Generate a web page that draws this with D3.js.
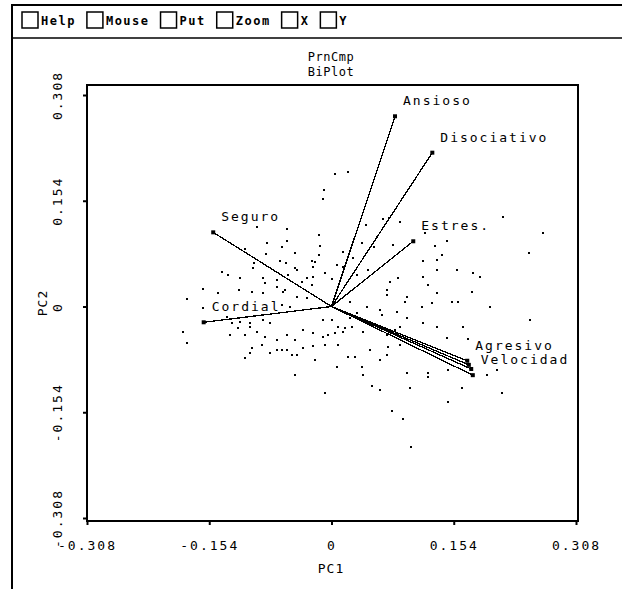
<!DOCTYPE html>
<html>
<head>
<meta charset="utf-8">
<script src="https://cdn.jsdelivr.net/npm/d3@7"></script>
<style>
  body { margin: 0; background: #fff; }
  text { font-family: "DejaVu Sans Mono", monospace; fill: #000; }
</style>
</head>
<body>
<script>
// menu across the top of the window
var menuItems = ["Help", "Mouse", "Put", "Zoom", "X", "Y"];

// axis ticks
var tickVals = [-0.308, -0.154, 0, 0.154, 0.308];
var tickLabels = ["-0.308", "-0.154", "0", "0.154", "0.308"];

// observation scores (PC1, PC2)
var pc1 = [0.004,0.021,-0.009,-0.011,-0.094,-0.056,-0.016,0.043,0.065,0.072,
  0.086,0.118,0.130,0.146,0.216,0.266,0.249,-0.081,-0.056,-0.062,
  -0.109,-0.083,-0.046,-0.014,-0.016,-0.021,-0.023,0.014,0.038,0.054,
  0.077,0.115,0.133,0.139,0.057,0.007,0.027,-0.057,-0.046,-0.098,
  -0.065,-0.025,-0.043,-0.138,-0.130,-0.115,-0.099,-0.086,-0.069,-0.059,
  -0.037,-0.023,-0.162,-0.143,-0.117,-0.182,-0.162,-0.132,-0.115,-0.103,
  -0.084,-0.055,-0.031,-0.025,-0.008,0.001,0.014,0.032,0.046,0.074,
  0.084,0.115,0.133,0.158,0.178,0.187,0.122,0.133,0.177,0.152,
  0.159,0.200,0.070,0.070,0.095,0.093,0.023,0.045,0.061,0.032,
  0.114,0.127,-0.100,-0.086,-0.069,-0.061,-0.043,-0.031,-0.062,-0.052,
  -0.187,-0.182,-0.125,-0.118,-0.103,-0.086,-0.077,-0.056,-0.046,-0.128,
  -0.109,-0.094,-0.084,-0.069,-0.036,-0.023,-0.011,0.001,0.008,0.017,
  0.014,-0.011,-0.004,0.004,0.023,0.036,0.040,0.026,0.070,0.080,
  0.086,0.064,0.083,0.095,0.115,0.133,0.166,0.250,0.146,0.172,
  -0.100,-0.103,-0.109,-0.088,-0.077,-0.069,-0.062,-0.056,-0.050,-0.043,
  -0.036,-0.023,-0.008,0.008,-0.021,0.007,0.021,0.030,0.038,0.049,
  0.061,0.070,0.071,0.086,0.095,0.122,0.122,0.147,0.196,0.209,
  -0.046,-0.008,0.040,0.051,0.061,0.099,0.164,0.215,0.147,0.076,
  0.090,0.100];
var pc2 = [0.193,0.196,0.170,0.157,0.116,0.113,0.104,0.119,0.127,0.129,
  0.123,0.107,0.088,0.095,0.130,0.107,0.078,0.092,0.095,0.087,
  0.084,0.076,0.078,0.088,0.075,0.065,0.058,0.079,0.092,0.087,
  0.090,0.066,0.068,0.075,0.101,0.060,0.071,0.063,0.056,0.063,
  0.066,0.066,0.053,0.050,0.046,0.041,0.056,0.041,0.039,0.024,
  0.036,0.043,0.025,0.020,0.024,0.011,-0.002,-0.015,-0.023,-0.030,
  0.034,0.046,0.041,0.031,0.049,0.040,0.058,0.046,0.053,0.036,
  0.041,0.043,0.053,0.053,0.049,0.043,0.031,0.020,0.021,0.007,
  0.007,-0.001,0.017,0.024,0.014,0.007,0.007,-0.001,-0.005,-0.009,
  -0.001,0.005,0.021,0.020,0.028,0.021,0.014,0.012,0.002,-0.001,
  -0.037,-0.053,-0.024,-0.031,-0.024,-0.020,-0.024,-0.041,-0.049,-0.041,
  -0.041,-0.037,-0.044,-0.049,-0.034,-0.039,-0.020,-0.020,-0.030,-0.031,
  -0.037,-0.044,-0.041,-0.039,-0.017,-0.017,-0.037,-0.030,-0.041,-0.034,
  -0.030,-0.012,-0.008,-0.017,-0.024,-0.030,-0.030,-0.020,-0.046,-0.047,
  -0.060,-0.068,-0.075,-0.056,-0.068,-0.063,-0.063,-0.063,-0.071,-0.071,
  -0.060,-0.058,-0.056,-0.056,-0.078,-0.088,-0.074,-0.074,-0.088,-0.063,
  -0.078,-0.071,-0.059,-0.056,-0.097,-0.097,-0.103,-0.092,-0.100,-0.092,
  -0.100,-0.126,-0.100,-0.116,-0.122,-0.119,-0.119,-0.126,-0.139,-0.152,
  -0.164,-0.205];

// variable loadings
var varNames = ["Ansioso", "Disociativo", "Estres.", "Seguro", "Cordial", "Agresivo", "", "", "Velocidad"];
var loadX = [0.080, 0.127, 0.103, -0.149, -0.161, 0.171, 0.173, 0.176, 0.178];
var loadY = [0.277, 0.224, 0.095, 0.108, -0.023, -0.079, -0.085, -0.091, -0.100];

var W = 622, H = 589;
var plotL = 87, plotR = 578, plotT = 85, plotB = 521;

var svg = d3.select("body").append("svg")
  .attr("width", W).attr("height", H);

// window frame
svg.append("line").attr("x1", 12).attr("y1", 4).attr("x2", 12).attr("y2", H)
  .attr("stroke", "#000").attr("stroke-width", 2);
svg.append("line").attr("x1", 12).attr("y1", 5).attr("x2", W).attr("y2", 5)
  .attr("stroke", "#000").attr("stroke-width", 2);
svg.append("line").attr("x1", 12).attr("y1", 38).attr("x2", W).attr("y2", 38)
  .attr("stroke", "#000").attr("stroke-width", 1.5);

// menu checkboxes
var cx = 22;
menuItems.forEach(function(m) {
  svg.append("rect").attr("x", cx).attr("y", 12).attr("width", 16).attr("height", 16)
    .attr("fill", "none").attr("stroke", "#000").attr("stroke-width", 1.5);
  var t = svg.append("text").attr("x", cx + 19).attr("y", 25)
    .style("font-size", "12px").style("font-weight", "bold")
    .style("letter-spacing", "1.5px")
    .text(m);
  cx += 19 + t.node().getComputedTextLength() + 11;
});

var xScale = d3.scaleLinear().domain([-0.308, 0.308]).range([87, 576]);
var yScale = d3.scaleLinear().domain([-0.308, 0.308]).range([518, 95]);

// title
svg.append("text").attr("x", 331).attr("y", 61).attr("text-anchor", "middle")
  .style("font-size", "12px").style("letter-spacing", "0.5px").text("PrnCmp");
svg.append("text").attr("x", 331).attr("y", 76).attr("text-anchor", "middle")
  .style("font-size", "12px").style("letter-spacing", "0.5px").text("BiPlot");

// plot frame
svg.append("rect").attr("x", plotL).attr("y", plotT)
  .attr("width", plotR - plotL).attr("height", plotB - plotT)
  .attr("fill", "none").attr("stroke", "#000").attr("stroke-width", 2);

var xAxis = d3.axisBottom(xScale).tickValues(tickVals)
  .tickFormat(function(d, i) { return tickLabels[i]; })
  .tickSize(4).tickPadding(16);
var gx = svg.append("g").attr("transform", "translate(0," + plotB + ")").call(xAxis);
gx.select(".domain").remove();
gx.selectAll("line").attr("stroke-width", 2);
gx.selectAll("text").style("font-size", "13px").style("letter-spacing", "2px")
  .style("font-family", "DejaVu Sans Mono");

var yAxis = d3.axisLeft(yScale).tickValues(tickVals)
  .tickFormat(function(d, i) { return tickLabels[i]; })
  .tickSize(4);
var gy = svg.append("g").attr("transform", "translate(" + plotL + ",0)").call(yAxis);
gy.select(".domain").remove();
gy.selectAll("line").attr("stroke-width", 2);
gy.selectAll("text")
  .attr("transform", "rotate(-90)")
  .attr("x", 0).attr("y", -25).attr("dy", 0)
  .attr("text-anchor", "middle")
  .style("font-size", "13px").style("letter-spacing", "2px")
  .style("font-family", "DejaVu Sans Mono");

// axis titles
svg.append("text").attr("x", 331).attr("y", 573).attr("text-anchor", "middle")
  .style("font-size", "13px").style("letter-spacing", "1px").text("PC1");
svg.append("text").attr("transform", "translate(47,303) rotate(-90)")
  .attr("text-anchor", "middle")
  .style("font-size", "13px").style("letter-spacing", "1px").text("PC2");

// observation points
var pts = pc1.map(function(v, i) { return [v, pc2[i]]; });
svg.append("g").selectAll("rect").data(pts).enter().append("rect")
  .attr("x", function(d) { return Math.round(xScale(d[0])) - 1; })
  .attr("y", function(d) { return Math.round(yScale(d[1])) - 1; })
  .attr("width", 2).attr("height", 2)
  .attr("fill", "#000");

// loading vectors
var vars = varNames.map(function(n, i) { return { name: n, x: loadX[i], y: loadY[i] }; });
var gv = svg.append("g");
gv.selectAll("line").data(vars).enter().append("line")
  .attr("x1", xScale(0)).attr("y1", yScale(0))
  .attr("x2", function(d) { return xScale(d.x); })
  .attr("y2", function(d) { return yScale(d.y); })
  .attr("stroke", "#000").attr("stroke-width", 1.3)
  .attr("shape-rendering", "crispEdges");
gv.selectAll("rect").data(vars).enter().append("rect")
  .attr("x", function(d) { return xScale(d.x) - 2; })
  .attr("y", function(d) { return yScale(d.y) - 2; })
  .attr("width", 4).attr("height", 4).attr("fill", "#000");
gv.selectAll("text").data(vars).enter().append("text")
  .attr("x", function(d) { return xScale(d.x) + 8; })
  .attr("y", function(d) { return yScale(d.y) - 11; })
  .style("font-size", "13px").style("letter-spacing", "2px")
  .text(function(d) { return d.name; });
</script>
</body>
</html>
